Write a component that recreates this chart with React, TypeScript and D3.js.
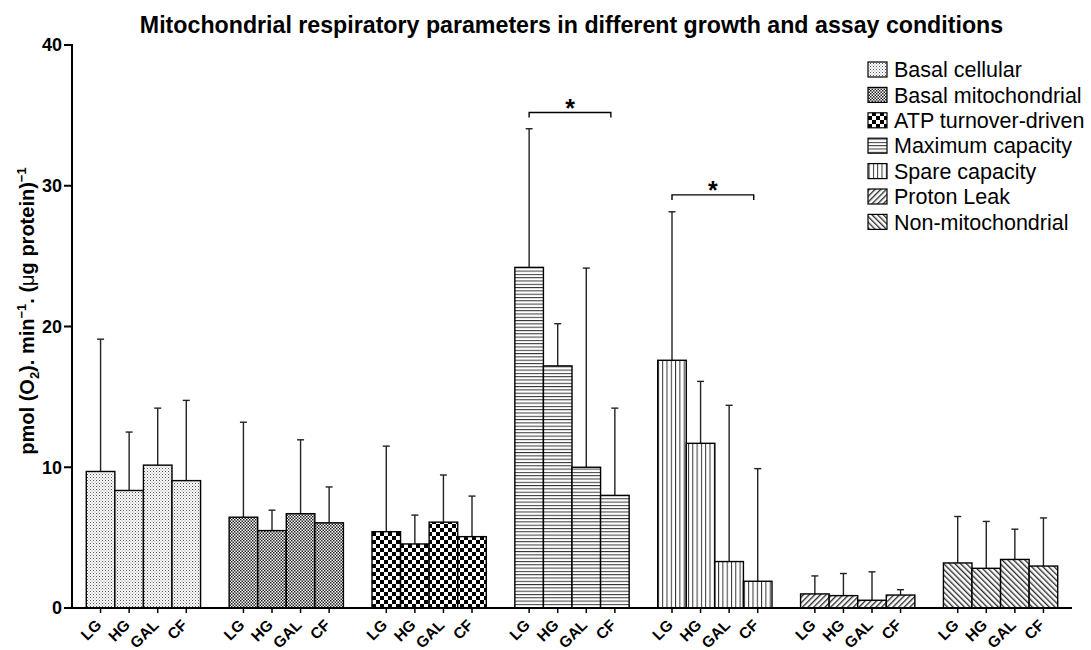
import React from "react";
import * as d3 from "d3";

// Respiratory parameters (group order along the x axis)
const parameters = [
  "Basal cellular",
  "Basal mitochondrial",
  "ATP turnover-driven",
  "Maximum capacity",
  "Spare capacity",
  "Proton Leak",
  "Non-mitochondrial",
];

// Growth / assay conditions within each group
const conditions = ["LG", "HG", "GAL", "CF"];

// Mean values, pmol O2 / min / µg protein (LG, HG, GAL, CF)
const basalCellular = [9.7, 8.35, 10.15, 9.05];
const basalMitochondrial = [6.45, 5.5, 6.7, 6.05];
const atpTurnover = [5.42, 4.55, 6.1, 5.07];
const maximumCapacity = [24.2, 17.2, 10.0, 8.0];
const spareCapacity = [17.6, 11.7, 3.3, 1.9];
const protonLeak = [1.0, 0.88, 0.55, 0.92];
const nonMitochondrial = [3.2, 2.82, 3.45, 2.98];

// Top of the upper error bar for each mean
const basalCellularErr = [19.1, 12.5, 14.2, 14.75];
const basalMitochondrialErr = [13.2, 6.95, 11.95, 8.6];
const atpTurnoverErr = [11.5, 6.6, 9.45, 7.95];
const maximumCapacityErr = [34.05, 20.2, 24.15, 14.2];
const spareCapacityErr = [28.15, 16.1, 14.4, 9.9];
const protonLeakErr = [2.28, 2.45, 2.57, 1.3];
const nonMitochondrialErr = [6.5, 6.15, 5.6, 6.4];

// Significance brackets: group index, first and last condition, bracket level
const significance = [
  { group: 3, from: 0, to: 3, level: 35.2 },
  { group: 4, from: 0, to: 3, level: 29.35 },
];

const yTicks = [0, 10, 20, 30, 40];

const seriesMeans = [
  basalCellular,
  basalMitochondrial,
  atpTurnover,
  maximumCapacity,
  spareCapacity,
  protonLeak,
  nonMitochondrial,
];
const seriesErr = [
  basalCellularErr,
  basalMitochondrialErr,
  atpTurnoverErr,
  maximumCapacityErr,
  spareCapacityErr,
  protonLeakErr,
  nonMitochondrialErr,
];
const patternIds = ["pDots", "pFineCheck", "pCheck", "pHLines", "pVLines", "pDiagUp", "pDiagDown"];

const W = 1091;
const H = 650;
const FONT = "'Liberation Sans', Arial, Helvetica, sans-serif";

export default function App() {
  const x0 = d3.scaleBand<string>().domain(parameters).range([72, 1072]).paddingInner(0.2).paddingOuter(0.1);
  const x1 = d3.scaleBand<string>().domain(conditions).range([0, x0.bandwidth()]).padding(0);
  const y = d3.scaleLinear().domain([0, 40]).range([608, 45]);

  const bars = parameters.flatMap((p, gi) =>
    conditions.map((c, ci) => ({
      p,
      c,
      gi,
      ci,
      value: seriesMeans[gi][ci],
      err: seriesErr[gi][ci],
      x: (x0(p) as number) + (x1(c) as number),
    }))
  );
  const bw = x1.bandwidth();

  return (
    <svg
      width={W}
      height={H}
      style={{ position: "absolute", left: 0, top: 0, background: "#fff", display: "block" }}
      fontFamily={FONT}
    >
      <defs>
        <pattern id="pDots" width="3" height="3" patternUnits="userSpaceOnUse">
          <rect width="3" height="3" fill="#fff" />
          <rect x="0" y="0" width="1" height="1" fill="#555" />
          <rect x="1.5" y="1.5" width="1" height="1" fill="#888" />
        </pattern>
        <pattern id="pFineCheck" width="3" height="3" patternUnits="userSpaceOnUse">
          <rect width="3" height="3" fill="#fff" />
          <rect x="0" y="0" width="1.5" height="1.5" fill="#222" />
          <rect x="1.5" y="1.5" width="1.5" height="1.5" fill="#222" />
        </pattern>
        <pattern id="pCheck" width="8" height="8" patternUnits="userSpaceOnUse">
          <rect width="8" height="8" fill="#fff" />
          <rect x="0" y="0" width="4" height="4" fill="#000" />
          <rect x="4" y="4" width="4" height="4" fill="#000" />
        </pattern>
        <pattern id="pHLines" width="6" height="3.3" patternUnits="userSpaceOnUse">
          <rect width="6" height="3.3" fill="#fff" />
          <line x1="0" x2="6" y1="0.5" y2="0.5" stroke="#333" strokeWidth="1" />
        </pattern>
        <pattern id="pVLines" width="4.3" height="6" patternUnits="userSpaceOnUse">
          <rect width="4.3" height="6" fill="#fff" />
          <line x1="0.5" x2="0.5" y1="0" y2="6" stroke="#333" strokeWidth="1" />
        </pattern>
        <pattern id="pDiagUp" width="4" height="4" patternUnits="userSpaceOnUse" patternTransform="rotate(45)">
          <rect width="4" height="4" fill="#fff" />
          <line x1="0.7" x2="0.7" y1="0" y2="4" stroke="#222" strokeWidth="1.3" />
        </pattern>
        <pattern id="pDiagDown" width="4" height="4" patternUnits="userSpaceOnUse" patternTransform="rotate(-45)">
          <rect width="4" height="4" fill="#fff" />
          <line x1="0.7" x2="0.7" y1="0" y2="4" stroke="#222" strokeWidth="1.3" />
        </pattern>
      </defs>

      {/* title */}
      <text x={571.5} y={33} textAnchor="middle" fontSize={23.2} fontWeight="bold" fill="#000">
        Mitochondrial respiratory parameters in different growth and assay conditions
      </text>

      {/* error bars (upper only) */}
      {bars.map((b, i) => {
        const cx = b.x + bw / 2;
        return (
          <g key={"e" + i} stroke="#222" strokeWidth={1.4}>
            <line x1={cx} x2={cx} y1={y(b.value)} y2={y(b.err)} />
            <line x1={cx - 3.5} x2={cx + 3.5} y1={y(b.err)} y2={y(b.err)} />
          </g>
        );
      })}

      {/* bars */}
      {bars.map((b, i) => (
        <rect
          key={"b" + i}
          x={b.x}
          y={y(b.value)}
          width={bw}
          height={y(0) - y(b.value)}
          fill={`url(#${patternIds[b.gi]})`}
          stroke="#000"
          strokeWidth={1.4}
        />
      ))}

      {/* significance brackets */}
      {significance.map((s, i) => {
        const p = parameters[s.group];
        const xa = (x0(p) as number) + (x1(conditions[s.from]) as number) + bw / 2;
        const xb = (x0(p) as number) + (x1(conditions[s.to]) as number) + bw / 2 - 4;
        const yy = y(s.level);
        return (
          <g key={"s" + i}>
            <path d={`M${xa},${yy + 5}V${yy}H${xb}V${yy + 5}`} fill="none" stroke="#000" strokeWidth={1.4} />
            <text x={(xa + xb) / 2} y={yy + 4} textAnchor="middle" fontSize={25} fontWeight="bold">
              *
            </text>
          </g>
        );
      })}

      {/* y axis */}
      <line x1={72} x2={72} y1={y(40) - 1} y2={y(0) + 1} stroke="#000" strokeWidth={2} />
      {yTicks.map((t) => (
        <g key={"yt" + t}>
          <line x1={64} x2={72} y1={y(t)} y2={y(t)} stroke="#000" strokeWidth={2} />
          <text x={62} y={y(t)} dy="0.36em" textAnchor="end" fontSize={18} fontWeight="bold">
            {t}
          </text>
        </g>
      ))}

      {/* x axis */}
      <line x1={71} x2={1072} y1={y(0)} y2={y(0)} stroke="#000" strokeWidth={2} />
      {bars.map((b, i) => {
        const cx = b.x + bw / 2;
        return (
          <g key={"xt" + i}>
            <line x1={cx} x2={cx} y1={y(0)} y2={y(0) + 5} stroke="#000" strokeWidth={1.5} />
            <text
              transform={`translate(${cx + 2},${y(0) + 18}) rotate(-45)`}
              textAnchor="end"
              fontSize={15.5}
              fontWeight="bold"
            >
              {b.c}
            </text>
          </g>
        );
      })}

      {/* y axis title */}
      <text transform="translate(34,311) rotate(-90)" textAnchor="middle" fontSize={20} fontWeight="bold">
        pmol (O
        <tspan fontSize={13} dy={5}>2</tspan>
        <tspan dy={-5}>). min</tspan>
        <tspan fontSize={13} dy={-8}>−1</tspan>
        <tspan dy={8}>. (</tspan>
        <tspan fontWeight="normal">μ</tspan>
        <tspan>g protein)</tspan>
        <tspan fontSize={13} dy={-8}>−1</tspan>
      </text>

      {/* legend */}
      {parameters.map((p, i) => {
        const ly = 69.5 + i * 25.4;
        return (
          <g key={"l" + i}>
            <rect x={868} y={ly - 7.5} width={19} height={15} fill={`url(#${patternIds[i]})`} stroke="#000" strokeWidth={1.2} />
            <text x={894} y={ly} dy="0.36em" fontSize={21.5}>
              {p}
            </text>
          </g>
        );
      })}
    </svg>
  );
}
